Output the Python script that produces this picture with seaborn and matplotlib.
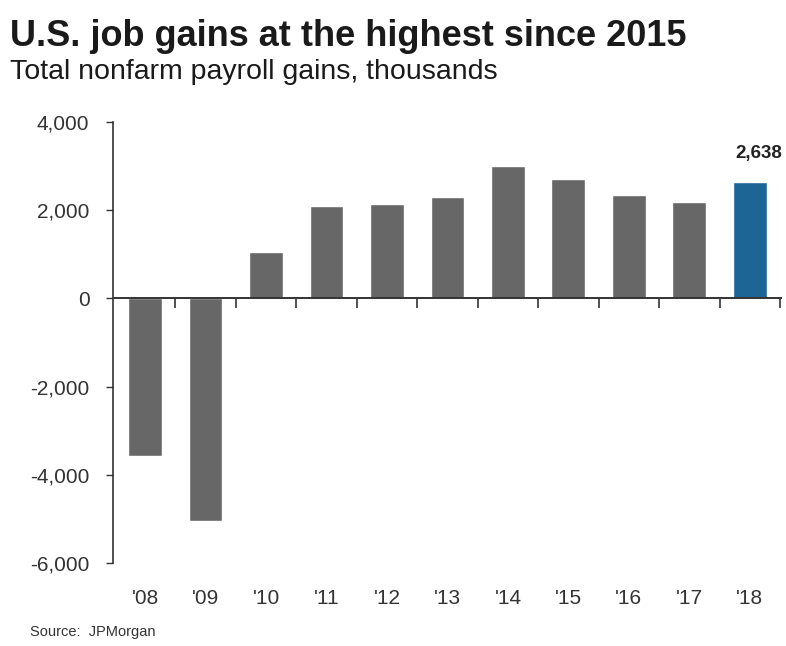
import matplotlib
matplotlib.use("Agg")
import matplotlib.pyplot as plt
import seaborn as sns
import pandas as pd
from matplotlib.ticker import FuncFormatter, FixedLocator, NullFormatter

years = ["'08", "'09", "'10", "'11", "'12", "'13", "'14", "'15", "'16", "'17", "'18"]
gains = [-3570, -5050, 1058, 2091, 2142, 2302, 2998, 2713, 2345, 2188, 2638]
bar_colors = ["#676767"] * 10 + ["#1d6595"]
yticks = [4000, 2000, 0, -2000, -4000, -6000]

sns.set_style("white")
plt.rcParams['font.family'] = ['Liberation Sans', 'DejaVu Sans']

df = pd.DataFrame({"year": years, "gain": gains})

fig = plt.figure(figsize=(7.86, 6.46), dpi=100)
ax = fig.add_axes([0.1438, 0.1285, 0.851, 0.6827])

sns.barplot(data=df, x="year", y="gain", hue="year", palette=bar_colors,
            width=0.56, legend=False, ax=ax, saturation=1)

ax.set_ylim(-6000, 4000)
ax.set_xlim(-0.53, len(years) - 0.47)
ax.yaxis.set_major_locator(FixedLocator(yticks))
ax.yaxis.set_major_formatter(FuncFormatter(lambda v, p: f"{int(v):,}"))
ax.tick_params(axis="y", direction="out", length=5, width=1, color="#333333",
               labelsize=15, labelcolor="#333333", pad=12, left=True)
ax.tick_params(axis="x", length=0, labelsize=15, labelcolor="#333333", pad=19)
ax.set_xlabel("")
ax.set_ylabel("")
for s in ["top", "right", "bottom"]:
    ax.spines[s].set_visible(False)
ax.spines["left"].set_color("#333333")
ax.spines["left"].set_linewidth(1.2)

# zero line drawn over the bars
ax.axhline(0, color="#333333", linewidth=1.4, zorder=5)

# boundary ticks hanging down from the zero line
zero_frac = (0 - (-6000)) / (4000 - (-6000))
sec = ax.secondary_xaxis(zero_frac)
sec.set_xticks([i + 0.5 for i in range(len(years))])
sec.xaxis.set_major_formatter(NullFormatter())
sec.xaxis.set_ticks_position("bottom")
sec.tick_params(axis="x", which="both", direction="out", length=7, width=1.2,
                color="#333333", bottom=True, top=False)
for s in sec.spines.values():
    s.set_visible(False)

# value label for last bar
ax.text(len(years) - 1 + 0.15, gains[-1] + 450, f"{gains[-1]:,}", ha="center",
        va="bottom", fontsize=13.5, fontweight="bold", color="#222222")

fig.text(0.013, 0.929, "U.S. job gains at the highest since 2015", fontsize=26,
         fontweight="bold", color="#1a1a1a", ha="left", va="baseline")
fig.text(0.013, 0.878, "Total nonfarm payroll gains, thousands", fontsize=20.5,
         color="#1a1a1a", ha="left", va="baseline")
fig.text(0.038, 0.016, "Source:  JPMorgan", fontsize=10.5, color="#333333",
         ha="left", va="baseline")

fig.savefig("out.png", dpi=100)
